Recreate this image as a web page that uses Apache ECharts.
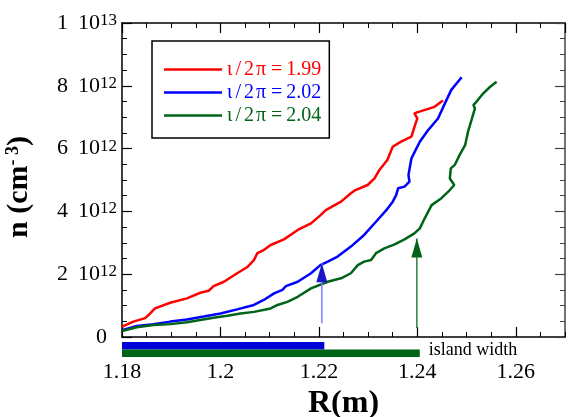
<!DOCTYPE html>
<html><head><meta charset="utf-8">
<script src="https://cdn.jsdelivr.net/npm/echarts@6/dist/echarts.min.js"></script>
<style>html,body{margin:0;padding:0;background:#fff}#c{width:572px;height:417px}</style>
</head><body><div id="c"></div>
<script>
// ---- data (n in units of 1e12 cm^-3, R in m) ----
const seriesNames = ['ι/2π=1.99', 'ι/2π=2.02', 'ι/2π=2.04'];
const red199 = [[1.1800,0.33],[1.1823,0.49],[1.1847,0.60],[1.1854,0.70],[1.1867,0.91],[1.1898,1.09],[1.1932,1.23],[1.1959,1.41],[1.1976,1.47],[1.1986,1.62],[1.2007,1.76],[1.2034,2.03],[1.2054,2.22],[1.2068,2.45],[1.2075,2.67],[1.2088,2.77],[1.2102,2.93],[1.2129,3.11],[1.2157,3.41],[1.2184,3.62],[1.2204,3.89],[1.2214,4.04],[1.2245,4.31],[1.2265,4.58],[1.2272,4.66],[1.2299,4.84],[1.2313,5.05],[1.2323,5.32],[1.2339,5.64],[1.2350,6.06],[1.2367,6.22],[1.2388,6.38],[1.2396,6.78],[1.2400,6.96],[1.2394,7.12],[1.2401,7.16],[1.2435,7.33],[1.2452,7.53]];
const blue202 = [[1.1800,0.22],[1.1830,0.35],[1.1864,0.41],[1.1898,0.49],[1.1932,0.56],[1.1966,0.65],[1.2000,0.75],[1.2034,0.88],[1.2068,1.02],[1.2088,1.18],[1.2109,1.39],[1.2126,1.50],[1.2133,1.62],[1.2157,1.76],[1.2184,2.03],[1.2203,2.29],[1.2218,2.40],[1.2238,2.56],[1.2265,2.88],[1.2292,3.25],[1.2316,3.67],[1.2337,4.04],[1.2350,4.31],[1.2357,4.52],[1.2361,4.74],[1.2374,4.79],[1.2384,4.95],[1.2382,5.16],[1.2388,5.69],[1.2405,6.22],[1.2422,6.59],[1.2442,6.96],[1.2456,7.44],[1.2469,7.87],[1.2490,8.27]];
const green204 = [[1.1800,0.19],[1.1830,0.31],[1.1864,0.38],[1.1898,0.41],[1.1932,0.47],[1.1959,0.54],[1.1986,0.61],[1.2014,0.68],[1.2041,0.75],[1.2068,0.80],[1.2102,0.91],[1.2116,1.02],[1.2136,1.12],[1.2157,1.28],[1.2184,1.55],[1.2218,1.76],[1.2245,1.87],[1.2265,2.03],[1.2279,2.29],[1.2292,2.40],[1.2306,2.45],[1.2316,2.67],[1.2333,2.82],[1.2354,2.95],[1.2374,3.11],[1.2394,3.30],[1.2405,3.46],[1.2415,3.78],[1.2429,4.20],[1.2449,4.42],[1.2466,4.68],[1.2475,4.84],[1.2466,5.05],[1.2468,5.37],[1.2476,5.48],[1.2486,5.80],[1.2497,6.11],[1.2503,6.54],[1.2510,6.91],[1.2517,7.28],[1.2514,7.39],[1.2520,7.49],[1.2534,7.76],[1.2548,7.97],[1.2561,8.13]];
const arrowBlue = [[1.2206,0.44],[1.2206,2.35]];
const arrowGreen = [[1.2399,0.28],[1.2399,3.14]];
const islandBlue = [1.18, 1.2211];
const islandGreen = [1.18, 1.2405];
const islandLabel = 'island width';
const xTickValues = [1.18, 1.20, 1.22, 1.24, 1.26];
const xTickLabels = ['1.18', '1.2', '1.22', '1.24', '1.26'];
const yTickMantissa = ['0', '2', '4', '6', '8', '1'];
const yTickExponent = ['', '12', '12', '12', '12', '13'];

const FONT = '"Liberation Serif", "Times New Roman", serif';
const RED = '#ff0000', BLUE = '#0000ff', GREEN = '#006418';

const chart = echarts.init(document.getElementById('c'), null, {renderer: 'canvas'});

function xFmt(v) {
  for (let i = 0; i < xTickValues.length; i++) {
    if (Math.abs(v - xTickValues[i]) < 1e-6) return xTickLabels[i];
  }
  return '';
}
function yFmt(v) {
  const i = Math.round(v / 2);
  if (i < 0 || i >= yTickMantissa.length) return '';
  if (!yTickExponent[i]) return '{m|' + yTickMantissa[i] + '}';
  return '{m|' + yTickMantissa[i] + '}{t|10}{s|' + yTickExponent[i] + '}';
}
function legendFmt(name) {
  let out = '';
  for (const ch of name) {
    if (ch === '/') out += '{p1|/}';
    else if (ch === 'π') out += '{p2|π}';
    else if (ch === '=') out += '{p3|=}';
    else out += '{p0|' + ch + '}';
  }
  return out;
}
const axisCol = '#000';
const baseX = {type: 'value', min: 1.18, max: 1.27, gridIndex: 0, splitLine: {show: false}};
const baseY = {type: 'value', min: 0, max: 10, interval: 2, gridIndex: 0, splitLine: {show: false}};
const lgTok = {fontFamily: FONT, fontSize: 20, lineHeight: 23};

const option = {
  animation: false,
  backgroundColor: '#fff',
  grid: [
    {left: 122, top: 23, right: 7, bottom: 80, containLabel: false, outerBoundsMode: 'none'},
    {left: 122, top: 342, right: 7, height: 15, containLabel: false, outerBoundsMode: 'none'}
  ],
  legend: {
    data: [
      {name: seriesNames[0], textStyle: {color: RED}},
      {name: seriesNames[1], textStyle: {color: BLUE}},
      {name: seriesNames[2], textStyle: {color: GREEN}}
    ],
    orient: 'vertical', left: 152, top: 41,
    borderColor: '#000', borderWidth: 1.5,
    padding: [17, 8, 11, 12],
    icon: 'rect',
    itemWidth: 58, itemHeight: 2.5, itemGap: 0,
    formatter: legendFmt,
    textStyle: {
      fontFamily: FONT, fontSize: 20, lineHeight: 23,
      rich: {
        p0: Object.assign({}, lgTok),
        p1: Object.assign({padding: [0, 3, 0, 3]}, lgTok),
        p2: Object.assign({padding: [0, 2, 0, 2]}, lgTok),
        p3: Object.assign({padding: [0, 4, 0, 3]}, lgTok)
      }
    }
  },
  xAxis: [
    Object.assign({}, baseX, {
      interval: 0.02, position: 'bottom',
      axisLine: {lineStyle: {color: axisCol, width: 1.5}},
      axisTick: {inside: true, length: 10, lineStyle: {color: axisCol, width: 1.2}},
      axisLabel: {formatter: xFmt, margin: 24, fontSize: 22, fontFamily: FONT, color: '#000', showMaxLabel: false},
      name: 'R(m)', nameLocation: 'middle', nameGap: 50,
      nameTextStyle: {fontSize: 32, fontWeight: 'bold', fontFamily: FONT, color: '#000'}
    }),
    Object.assign({}, baseX, {
      interval: 0.005, position: 'bottom',
      axisLine: {show: false},
      axisTick: {inside: true, length: 5, lineStyle: {color: axisCol, width: 1}},
      axisLabel: {show: false}
    }),
    Object.assign({}, baseX, {
      interval: 0.02, position: 'top',
      axisLine: {lineStyle: {color: axisCol, width: 1.5}},
      axisTick: {inside: true, length: 10, lineStyle: {color: axisCol, width: 1.2}},
      axisLabel: {show: false}
    }),
    Object.assign({}, baseX, {
      interval: 0.005, position: 'top',
      axisLine: {show: false},
      axisTick: {inside: true, length: 5, lineStyle: {color: axisCol, width: 1}},
      axisLabel: {show: false}
    }),
    {type: 'value', gridIndex: 1, min: 1.18, max: 1.27, show: false}
  ],
  yAxis: [
    Object.assign({}, baseY, {
      position: 'left',
      axisLine: {show: true, lineStyle: {color: axisCol, width: 1.5}},
      axisTick: {show: true, inside: true, length: 10, lineStyle: {color: axisCol, width: 1.2}},
      minorTick: {show: true, splitNumber: 4, length: 5, lineStyle: {color: axisCol, width: 1}},
      axisLabel: {
        formatter: yFmt, margin: 5, color: '#000', fontFamily: FONT,
        rich: {
          m: {fontSize: 22, fontFamily: FONT, lineHeight: 22, verticalAlign: 'bottom', padding: [0, 10, 0, 0], color: '#000'},
          t: {fontSize: 22, fontFamily: FONT, lineHeight: 22, verticalAlign: 'bottom', color: '#000'},
          s: {fontSize: 17, fontFamily: FONT, lineHeight: 17, padding: [0, 0, 11, 0], verticalAlign: 'top', color: '#000'}
        }
      },
      name: '{b|n (cm}{s|- 3}{b|)}', nameLocation: 'middle', nameGap: 53, nameRotate: 90,
      nameTextStyle: {
        fontFamily: FONT, color: '#000', padding: [0, 14, 0, 0],
        rich: {
          b: {fontSize: 30, fontWeight: 'bold', fontFamily: FONT, lineHeight: 30, verticalAlign: 'bottom', color: '#000'},
          s: {fontSize: 18, fontWeight: 'bold', fontFamily: FONT, lineHeight: 18, padding: [0, 0, 24, 0], verticalAlign: 'top', color: '#000'}
        }
      }
    }),
    Object.assign({}, baseY, {
      position: 'right',
      axisLine: {show: true, lineStyle: {color: '#444', width: 1.5}},
      axisTick: {show: true, inside: true, length: 10, lineStyle: {color: '#444', width: 1.2}},
      minorTick: {show: true, splitNumber: 4, length: 5, lineStyle: {color: '#444', width: 1}},
      axisLabel: {show: false}
    }),
    {type: 'value', gridIndex: 1, min: 0, max: 2, show: false}
  ],
  series: [
    {name: seriesNames[0], type: 'line', data: red199, symbol: 'none', color: RED,
     lineStyle: {color: RED, width: 2.5}, z: 3},
    {name: seriesNames[1], type: 'line', data: blue202, symbol: 'none', color: BLUE,
     lineStyle: {color: BLUE, width: 2.5}, z: 3},
    {name: seriesNames[2], type: 'line', data: green204, symbol: 'none', color: GREEN,
     lineStyle: {color: GREEN, width: 2.5}, z: 3},
    {name: 'arrowBlue', type: 'line', data: arrowBlue, silent: true,
     symbol: function (v, p) { return p.dataIndex === 1 ? 'triangle' : 'none'; },
     symbolSize: [11, 19], symbolOffset: [0, 9.5],
     itemStyle: {color: '#1818c8'}, lineStyle: {color: '#7f7fff', width: 1.5}, z: 4},
    {name: 'arrowGreen', type: 'line', data: arrowGreen, silent: true,
     symbol: function (v, p) { return p.dataIndex === 1 ? 'triangle' : 'none'; },
     symbolSize: [11, 19], symbolOffset: [0, 9.5],
     itemStyle: {color: GREEN}, lineStyle: {color: '#2e8040', width: 1.5}, z: 4},
    {name: 'islandBlue', type: 'line', xAxisIndex: 4, yAxisIndex: 2, silent: true,
     data: [[islandBlue[0], 1.5], [islandBlue[1], 1.5]], symbol: 'none',
     lineStyle: {color: '#0000d8', width: 7.5, cap: 'butt'}},
    {name: 'islandGreen', type: 'line', xAxisIndex: 4, yAxisIndex: 2, silent: true,
     data: [[islandGreen[0], 0.5], [islandGreen[1], 0.5]], symbol: 'none',
     lineStyle: {color: GREEN, width: 7.5, cap: 'butt'},
     endLabel: {show: true, formatter: islandLabel, color: '#000', fontFamily: FONT, fontSize: 18, distance: 9, offset: [0, -3]}}
  ]
};
chart.setOption(option);
</script>
</body></html>
